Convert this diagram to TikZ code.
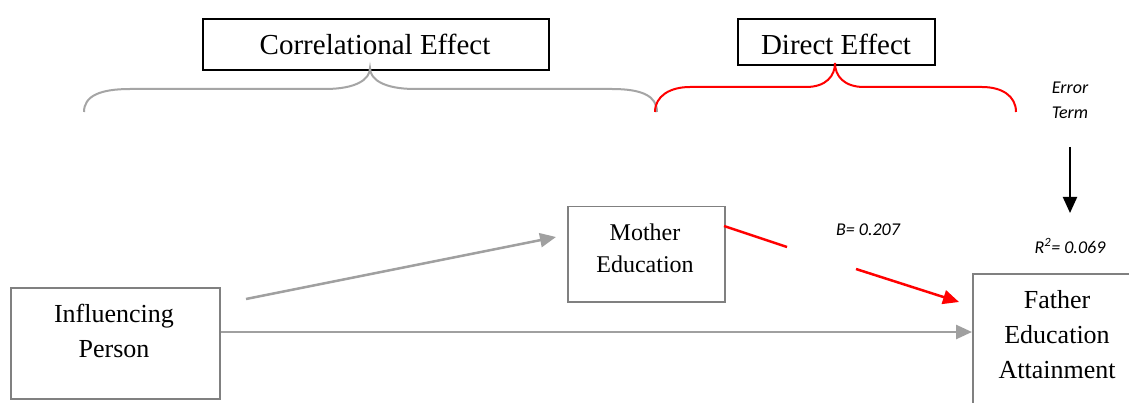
\documentclass[tikz,border=0pt]{standalone}
\usepackage{fontspec}
\setmainfont{Liberation Serif}
\newfontfamily\calfont{Carlito}
\usetikzlibrary{arrows.meta}
\definecolor{boxgray}{RGB}{128,128,128}
\definecolor{arrgray}{RGB}{160,160,160}
\definecolor{bracegray}{RGB}{165,165,165}
\tikzset{
  x=1pt, y=-1pt,
  topbox/.style={draw=black, line width=1.6pt, inner sep=0pt, anchor=north west},
  graybox/.style={draw=boxgray, line width=1.5pt, inner sep=0pt, anchor=north west},
  bigtxt/.style={font=\fontsize{29}{33}\selectfont, inner sep=0pt},
  nodetxt/.style={font=\fontsize{26}{35}\selectfont, align=center, inner sep=0pt},
  midtxt/.style={font=\fontsize{24}{32}\selectfont, align=center, inner sep=0pt},
  itxt/.style={font=\calfont\itshape\fontsize{18}{25}\selectfont, align=center, inner sep=0pt},
  grayarrow/.style={draw=arrgray, line width=2.5pt, -{Triangle[length=16pt,width=14pt]}},
  redline/.style={draw=red, line width=2.5pt},
  redarrow/.style={draw=red, line width=2.5pt, -{Triangle[length=16pt,width=14pt]}},
  blackarrow/.style={draw=black, line width=2pt, -{Triangle[length=16pt,width=14pt]}},
  brace/.style={line width=2pt},
}
\begin{document}
\begin{tikzpicture}
\useasboundingbox (0,0) rectangle (1129,403);
\clip (0,0) rectangle (1129,403);
\fill[white] (0,0) rectangle (1129,403);

% top boxes
\node[topbox, minimum width=346, minimum height=51] (corr) at (202,18) {};
\node[bigtxt] (corrt) at (375,44) {Correlational Effect};
\node[topbox, minimum width=197, minimum height=46] (dir) at (737,18) {};
\node[bigtxt] (dirt) at (836,44) {Direct Effect};

% braces
\draw[brace, draw=bracegray] (84,112) .. controls (84,96) and (100,89) .. (130,89) -- (325,89)
  .. controls (355,89) and (370,80) .. (370,68)
  .. controls (370,80) and (385,89) .. (415,89) -- (612,89)
  .. controls (642,89) and (657,96) .. (657,112);
\draw[brace, draw=red] (655,112) .. controls (655,96) and (670,87) .. (690,87) -- (806,87)
  .. controls (826,87) and (835,76) .. (835,63)
  .. controls (835,76) and (844,87) .. (864,87) -- (982,87)
  .. controls (1002,87) and (1016,96) .. (1016,112);

% nodes
\node[graybox, minimum width=157, minimum height=95] (mother) at (567,206) {};
\node[midtxt] (mothert) at (645,248) {Mother\\Education};
\node[graybox, minimum width=209, minimum height=111] (inf) at (10,287) {};
\node[nodetxt] (inft) at (114,331) {Influencing\\Person};
\node[graybox, minimum width=200, minimum height=160] (father) at (972,273) {};
\node[nodetxt] (fathert) at (1057,335) {Father\\Education\\Attainment};

% labels
\node[itxt] (err) at (1070,100) {Error\\Term};
\node[itxt] (beta) at (868,230) {\textit{B}= 0.207};
\node[itxt] (rsq) at (1070,246) {R\textsuperscript{2}= 0.069};

% connectors
\coordinate (g1) at (246,299);
\coordinate (g2) at (556,237);
\draw[grayarrow] (g1) -- (g2);
\draw[grayarrow] (inf.east |- 0,332) -- (father.west |- 0,332);
\coordinate (r0) at (724,226);
\coordinate (r1) at (787,247);
\coordinate (r2) at (856,269);
\coordinate (r3) at (959,302);
\draw[redline] (r0) -- (r1);
\draw[redarrow] (r2) -- (r3);
\coordinate (e1) at (1070,147);
\coordinate (e2) at (1070,213);
\draw[blackarrow] (e1) -- (e2);
\end{tikzpicture}
\end{document}
